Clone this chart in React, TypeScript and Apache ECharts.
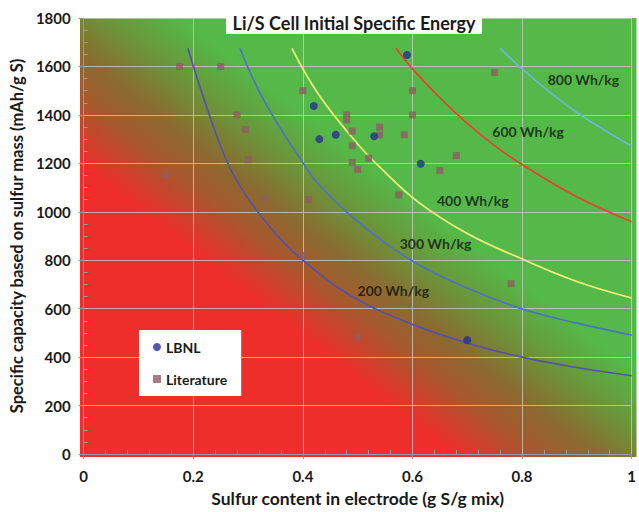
import React, { useEffect, useRef } from "react";
import * as echarts from "echarts";

// Measured cells: [sulfur fraction in electrode, capacity mAh/g S]
const lbnl: [number, number][] = [
  [0.42, 1437], [0.43, 1300], [0.46, 1318], [0.53, 1312],
  [0.59, 1647], [0.615, 1198], [0.70, 470],
];

const literature: [number, number][] = [
  [0.15, 1150], [0.175, 1600], [0.25, 1600], [0.28, 1400], [0.295, 1340],
  [0.30, 1215], [0.33, 1050], [0.40, 1500], [0.40, 820], [0.41, 1050],
  [0.48, 1400], [0.48, 1380], [0.49, 1333], [0.49, 1273], [0.49, 1204],
  [0.50, 1175], [0.50, 483], [0.52, 1221], [0.54, 1350], [0.54, 1317],
  [0.575, 1070], [0.585, 1318], [0.60, 1500], [0.60, 1400], [0.65, 1170],
  [0.68, 1232], [0.75, 1575], [0.78, 703],
];

// Iso-energy contours
const curve200: [number, number][] = [
  [0.19, 1675], [0.23, 1395], [0.265, 1190], [0.30, 1055], [0.35, 910],
  [0.40, 800], [0.49, 650], [0.60, 535], [0.70, 458], [0.80, 400],
  [0.90, 357], [1.0, 323],
];
const curve300: [number, number][] = [
  [0.285, 1675], [0.33, 1455], [0.405, 1185], [0.43, 1110], [0.50, 960],
  [0.60, 797], [0.70, 685], [0.80, 599], [0.90, 540], [1.0, 491],
];
const curve400: [number, number][] = [
  [0.38, 1675], [0.43, 1480], [0.50, 1280], [0.54, 1185], [0.61, 1041],
  [0.70, 910], [0.79, 815], [0.90, 712], [1.0, 644],
];
const curve600: [number, number][] = [
  [0.57, 1675], [0.60, 1590], [0.65, 1470], [0.70, 1365], [0.75, 1273],
  [0.80, 1195], [0.90, 1062], [1.0, 959],
];
const curve800: [number, number][] = [
  [0.76, 1675], [0.80, 1590], [0.85, 1495], [0.90, 1410], [0.95, 1338],
  [1.0, 1271],
];

const curveNames = ["200 Wh/kg", "300 Wh/kg", "400 Wh/kg", "600 Wh/kg", "800 Wh/kg"];
const curveColors = ["#5552aa", "#4d72c2", "#f4f27a", "#e8412c", "#6fb6d6"];
const curveLabelPos: [number, number][] = [
  [0.565, 673], [0.642, 870], [0.71, 1046], [0.811, 1330], [0.912, 1547],
];

const FONT = "Lato, 'Open Sans', sans-serif";

export default function App() {
  const ref = useRef<HTMLDivElement>(null);

  useEffect(() => {
    if (!ref.current) return;
    const chart = echarts.init(ref.current, undefined, { renderer: "svg" });

    const left = 80;
    const top = 18;
    const plotW = 556.5;
    const plotH = 439;

    const curves = [curve200, curve300, curve400, curve600, curve800];

    const lineSeries = curves.map((c, i) => ({
      type: "line",
      name: curveNames[i],
      data: c,
      smooth: 0.4,
      showSymbol: false,
      symbol: "none",
      silent: true,
      z: 3,
      lineStyle: { color: curveColors[i], width: 1.7 },
    }));

    const minorAxisCommon = {
      type: "value",
      min: 0,
      axisLine: { show: false },
      axisLabel: { show: false },
      axisTick: { show: false, inside: true },
      splitLine: { show: false },
    };

    const tickLabel = {
      fontFamily: FONT,
      fontWeight: "bold",
      fontSize: 15,
      color: "#1a1a1a",
      formatter: (v: number) => String(v),
    };

    chart.setOption({
      animation: false,
      textStyle: { fontFamily: FONT },
      grid: { left, top, width: plotW, height: plotH },
      legend: {
        data: ["LBNL", "Literature"],
        orient: "vertical",
        left: 139,
        top: 330,
        backgroundColor: "#ffffff",
        padding: [10, 14, 10, 14],
        itemWidth: 8,
        itemHeight: 8,
        itemGap: 18,
        textStyle: { fontFamily: FONT, fontWeight: "bold", fontSize: 14, color: "#1a1a1a" },
      },
      xAxis: [
        {
          type: "value",
          min: 0,
          max: 1,
          interval: 0.2,
          name: "Sulfur content in electrode (g S/g mix)",
          nameLocation: "middle",
          nameGap: 35,
          nameTextStyle: { fontFamily: FONT, fontWeight: "bold", fontSize: 17.5, color: "#1a1a1a" },
          axisLine: { lineStyle: { color: "#9a9a9a" } },
          axisTick: { show: true, length: 5, lineStyle: { color: "#9a9a9a" } },
          axisLabel: { ...tickLabel, margin: 14 },
          splitLine: { show: true, lineStyle: { color: "rgba(205,205,205,0.75)", width: 1 } },
        },
        {
          ...minorAxisCommon,
          max: 1,
          interval: 0.2,
          position: "bottom",
          minorTick: { show: true, splitNumber: 5, length: 4, lineStyle: { color: "#9a9a9a" } },
        },
      ],
      yAxis: [
        {
          type: "value",
          min: 0,
          max: 1800,
          interval: 200,
          name: "Specific capacity based on sulfur mass (mAh/g S)",
          nameLocation: "middle",
          nameGap: 52,
          nameTextStyle: { fontFamily: FONT, fontWeight: "bold", fontSize: 16.5, color: "#1a1a1a" },
          axisLine: { show: true, lineStyle: { color: "#9a9a9a" } },
          axisTick: { show: true, length: 5, lineStyle: { color: "#9a9a9a" } },
          axisLabel: { ...tickLabel, margin: 13 },
          splitLine: { show: true, lineStyle: { color: "rgba(205,205,205,0.75)", width: 1 } },
        },
        {
          ...minorAxisCommon,
          max: 1800,
          interval: 200,
          position: "left",
          minorTick: { show: true, splitNumber: 4, length: 4, lineStyle: { color: "#9a9a9a" } },
        },
      ],
      graphic: [
        {
          type: "rect",
          z: -10,
          silent: true,
          shape: { x: left, y: top, width: plotW, height: plotH },
          style: {
            fill: new echarts.graphic.LinearGradient(
              290, 326, 398, 187,
              [
                { offset: 0, color: "#ee2e2a" },
                { offset: 0.28, color: "#aa572c" },
                { offset: 0.5, color: "#8a6c30" },
                { offset: 0.72, color: "#6d9339" },
                { offset: 1, color: "#54b948" },
              ],
              true
            ),
          },
        },
        {
          type: "rect",
          z: 100,
          silent: true,
          shape: { x: 226, y: 12, width: 256, height: 22 },
          style: { fill: "#ffffff" },
        },
        {
          type: "text",
          z: 101,
          silent: true,
          x: 354,
          y: 23,
          style: {
            text: "Li/S Cell Initial Specific Energy",
            fontFamily: FONT,
            fontWeight: "bold",
            fontSize: 18,
            fill: "#1a1a1a",
            align: "center",
            verticalAlign: "middle",
          },
        },
      ],
      series: [
        ...lineSeries,
        {
          type: "scatter",
          name: "curve labels",
          data: curveLabelPos.map((p, i) => ({ value: p, name: curveNames[i] })),
          symbolSize: 0,
          silent: true,
          z: 5,
          label: {
            show: true,
            position: "inside",
            formatter: "{b}",
            fontFamily: FONT,
            fontWeight: "bold",
            fontSize: 14,
            color: "#111111",
          },
        },
        {
          type: "scatter",
          name: "Literature",
          data: literature,
          symbol: "rect",
          symbolSize: 7,
          z: 4,
          itemStyle: { color: "#8e5d63" },
        },
        {
          type: "scatter",
          name: "LBNL",
          data: lbnl,
          symbol: "circle",
          symbolSize: 8,
          z: 4,
          itemStyle: { color: "#27308e" },
        },
      ],
    });

    return () => chart.dispose();
  }, []);

  return (
    <div
      ref={ref}
      style={{ position: "fixed", left: 0, top: 0, width: 639, height: 512, background: "#ffffff" }}
    />
  );
}
